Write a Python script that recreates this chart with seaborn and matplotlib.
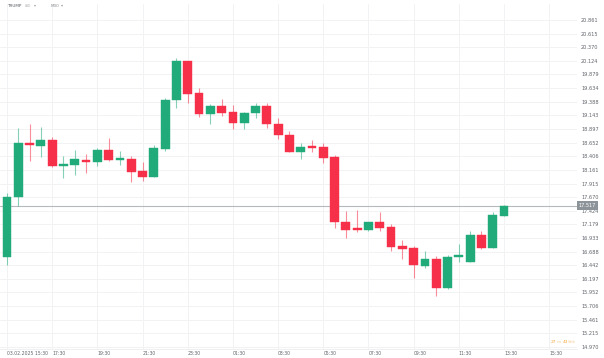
import numpy as np
import pandas as pd
import seaborn as sns
import matplotlib.pyplot as plt

## 30 minute candles of TRUMP
opens = [16.586, 17.667, 18.635, 18.597, 18.699, 18.236, 18.249, 18.339, 18.298, 18.519,
         18.339, 18.357, 18.141, 18.033, 18.542, 19.420, 20.122, 19.551, 19.168, 19.312,
         19.198, 19.011, 19.180, 19.312, 18.993, 18.795, 18.488, 18.579, 18.568, 18.388,
         17.228, 17.108, 17.083, 17.216, 17.137, 16.790, 16.759, 16.429, 16.550, 16.028,
         16.586, 16.507, 16.988, 16.759, 17.330]
highs = [17.739, 18.910, 18.990, 18.933, 18.748, 18.411, 18.519, 18.447, 18.550, 18.741,
         18.501, 18.411, 18.303, 18.609, 19.461, 20.171, 20.130, 19.641, 19.342, 19.438,
         19.330, 19.200, 19.371, 19.360, 19.096, 18.856, 18.640, 18.699, 18.640, 18.424,
         17.420, 17.438, 17.230, 17.407, 17.186, 16.898, 16.790, 16.700, 16.609, 16.622,
         16.826, 17.060, 17.060, 17.402, 17.530]
lows = [16.447, 17.510, 18.326, 18.398, 18.220, 18.009, 18.063, 18.099, 18.236, 18.320,
        18.249, 17.948, 17.961, 18.030, 18.506, 19.270, 19.360, 19.119, 18.987, 19.132,
        18.903, 18.903, 19.096, 18.915, 18.712, 18.480, 18.351, 18.483, 18.290, 17.108,
        16.939, 17.047, 17.065, 17.065, 16.705, 16.550, 16.219, 16.388, 15.894, 16.020,
        16.507, 16.500, 16.740, 16.755, 17.330]
closes = [17.678, 18.640, 18.605, 18.699, 18.231, 18.261, 18.357, 18.298, 18.519, 18.339,
          18.363, 18.128, 18.027, 18.561, 19.420, 20.122, 19.522, 19.168, 19.312, 19.191,
          19.011, 19.191, 19.312, 18.993, 18.784, 18.488, 18.579, 18.561, 18.380, 17.222,
          17.072, 17.078, 17.216, 17.108, 16.777, 16.741, 16.442, 16.550, 16.028, 16.597,
          16.615, 16.988, 16.748, 17.348, 17.516]

price_ticks = [20.861, 20.615, 20.370, 20.124, 19.879, 19.634, 19.388, 19.143, 18.897,
               18.652, 18.406, 18.161, 17.915, 17.670, 17.424, 17.179, 16.933, 16.688,
               16.442, 16.197, 15.952, 15.706, 15.461, 15.215, 14.970]
time_tick_pos = [0, 4, 8, 12, 16, 20, 24, 28, 32, 36, 40, 44, 48]
time_labels = ['03.02.2025 15:30', '17:30', '19:30', '21:30', '23:30', '01:30', '03:30',
               '05:30', '07:30', '09:30', '11:30', '13:30', '15:30']
last_price = 17.517

df = pd.DataFrame({'open': opens, 'high': highs, 'low': lows, 'close': closes})
df['idx'] = np.arange(len(df))
df['up'] = df['close'] >= df['open']

GREEN = '#22ab7a'
RED = '#f7304a'

sns.set_theme(style='white')
plt.rcParams['font.family'] = ['DejaVu Sans']

fig = plt.figure(figsize=(6.04, 3.58), dpi=100)
W, H = 604, 358
ax = fig.add_axes([0, (H - 349) / H, 577 / W, (349 - 4) / H])

colors = df['up'].map({True: GREEN, False: RED})

## wicks
ax.vlines(df['idx'], df['low'], df['high'], colors=colors, linewidth=0.8, alpha=0.55, zorder=2)

## bodies
body_bottom = df[['open', 'close']].min(axis=1)
body_h = (df['close'] - df['open']).abs().clip(lower=0.035)
ax.bar(df['idx'], body_h, bottom=body_bottom, width=0.78, color=colors,
       edgecolor=colors, linewidth=0.3, zorder=3)

## last price line
ax.axhline(last_price, color='#b5b9bd', linewidth=0.8, zorder=1)
ax.text(1.003, last_price, f'{last_price:.3f}', transform=ax.get_yaxis_transform(),
        ha='left', va='center', fontsize=3.6, color='white', zorder=5,
        bbox=dict(boxstyle='square,pad=0.35', fc='#8c9399', ec='none'))

ax.set_xlim(-0.62, 50.46)
ax.set_ylim(14.934, 21.149)

ax.set_yticks(price_ticks)
ax.set_yticklabels([f'{p:.3f}' for p in price_ticks])
ax.yaxis.tick_right()
ax.set_xticks(time_tick_pos)
ax.set_xticklabels(time_labels)
for t in ax.get_xticklabels():
    t.set_ha('left')
ax.tick_params(axis='y', length=0, pad=3, labelsize=3.6, labelcolor='#60646a')
ax.tick_params(axis='x', length=0, pad=1.2, labelsize=3.3, labelcolor='#60646a')

ax.grid(True, color='#f0f2f4', linewidth=0.7, zorder=0)
ax.set_axisbelow(True)
for s in ['top', 'left', 'right']:
    ax.spines[s].set_visible(False)
ax.spines['bottom'].set_color('#eceef0')
ax.spines['bottom'].set_linewidth(0.6)

## header and countdown
fig.text(7 / W, 1 - 6 / H, 'TRUMP', fontsize=3.0, color='#555a60', va='center')
fig.text(25 / W, 1 - 6 / H, 'USD', fontsize=2.2, color='#a0a4a8', va='center')
fig.text(34 / W, 1 - 5.5 / H, '\u25be', fontsize=3.0, color='#a0a4a8', va='center')
fig.text(51 / W, 1 - 6 / H, 'M30', fontsize=3.0, color='#888c90', va='center')
fig.text(61 / W, 1 - 5.5 / H, '\u25be', fontsize=3.0, color='#a0a4a8', va='center')
fig.text(551 / W, 1 - 342 / H, '27', fontsize=3.2, color='#f5a83a', va='center')
fig.text(556.7 / W, 1 - 342 / H, 'm', fontsize=3.2, color='#f7cd96', va='center')
fig.text(562.4 / W, 1 - 342 / H, '43', fontsize=3.2, color='#f5a83a', va='center')
fig.text(568.1 / W, 1 - 342 / H, 'Sek', fontsize=3.2, color='#f7cd96', va='center')

fig.savefig('out.png', dpi=100, facecolor='white')
